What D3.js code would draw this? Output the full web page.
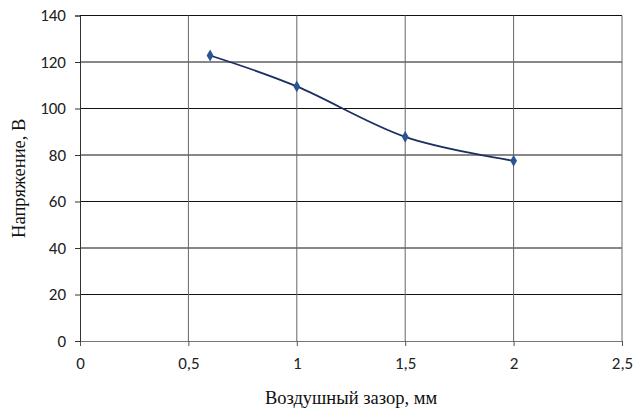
<!DOCTYPE html>
<html>
<head>
<meta charset="utf-8">
<script src="https://cdn.jsdelivr.net/npm/d3@7"></script>
<style>
  body { margin: 0; background: #fff; }
  .tick text { font-family: Carlito, Lato, "Open Sans", sans-serif; font-size: 17px; fill: #222; }
  .title { font-family: "Liberation Serif", "Times New Roman", serif; font-size: 18.5px; fill: #111; }
</style>
</head>
<body>
<svg id="chart" width="641" height="412"></svg>
<script>
// air gap, mm
const gap = [0.6, 1, 1.5, 2];
// voltage, V
const voltage = [122.8, 109.5, 87.8, 77.5];
const xTicks = [0, 0.5, 1, 1.5, 2, 2.5];
const yTicks = [0, 20, 40, 60, 80, 100, 120, 140];
const xLabel = 'Воздушный зазор, мм';
const yLabel = 'Напряжение, В';

const svg = d3.select('#chart');
const plotLeft = 80, plotRight = 622, plotTop = 15.5, plotBottom = 341;

const x = d3.scaleLinear().domain([0, 2.5]).range([plotLeft, plotRight]);
const y = d3.scaleLinear().domain([0, 140]).range([plotBottom, plotTop]);

// horizontal grid
svg.append('g').selectAll('line').data(yTicks.filter(d => d > 0)).enter()
  .append('line')
  .attr('x1', plotLeft).attr('x2', plotRight)
  .attr('y1', d => y(d)).attr('y2', d => y(d))
  .attr('stroke', '#111').attr('stroke-width', 1);

// vertical grid
svg.append('g').selectAll('line').data(xTicks.filter(d => d > 0)).enter()
  .append('line')
  .attr('x1', d => x(d)).attr('x2', d => x(d))
  .attr('y1', plotTop).attr('y2', plotBottom)
  .attr('stroke', '#666').attr('stroke-width', 1);

// axes
let xAxis = svg.append('g').attr('transform', `translate(0,${plotBottom})`)
  .call(d3.axisBottom(x).tickValues(xTicks).tickSize(5).tickPadding(11)
    .tickFormat(d => String(d).replace('.', ',')));
xAxis.select('.domain').attr('stroke', '#777');
xAxis.selectAll('.tick line').attr('stroke', '#555');

let yAxis = svg.append('g').attr('transform', `translate(${plotLeft},0)`)
  .call(d3.axisLeft(y).tickValues(yTicks).tickSize(5).tickPadding(9));
yAxis.select('.domain').attr('stroke', '#333');
yAxis.selectAll('.tick line').attr('stroke', '#333');

// curve
const points = gap.map((g, i) => [g, voltage[i]]);
svg.append('path')
  .datum(points)
  .attr('fill', 'none')
  .attr('stroke', '#1c2f63')
  .attr('stroke-width', 1.8)
  .attr('d', d3.line().x(d => x(d[0])).y(d => y(d[1])).curve(d3.curveCatmullRom.alpha(0)));

svg.append('g').selectAll('path').data(points).enter()
  .append('path')
  .attr('transform', d => `translate(${x(d[0])},${y(d[1])})`)
  .attr('d', d3.symbol().type(d3.symbolDiamond).size(40))
  .attr('fill', '#2b5592');

// titles
svg.append('text').attr('class', 'title')
  .attr('x', 351).attr('y', 404)
  .attr('text-anchor', 'middle').text(xLabel);

svg.append('text').attr('class', 'title')
  .attr('transform', `translate(25,${(plotTop + plotBottom) / 2}) rotate(-90)`)
  .attr('text-anchor', 'middle').text(yLabel);
</script>
</body>
</html>
